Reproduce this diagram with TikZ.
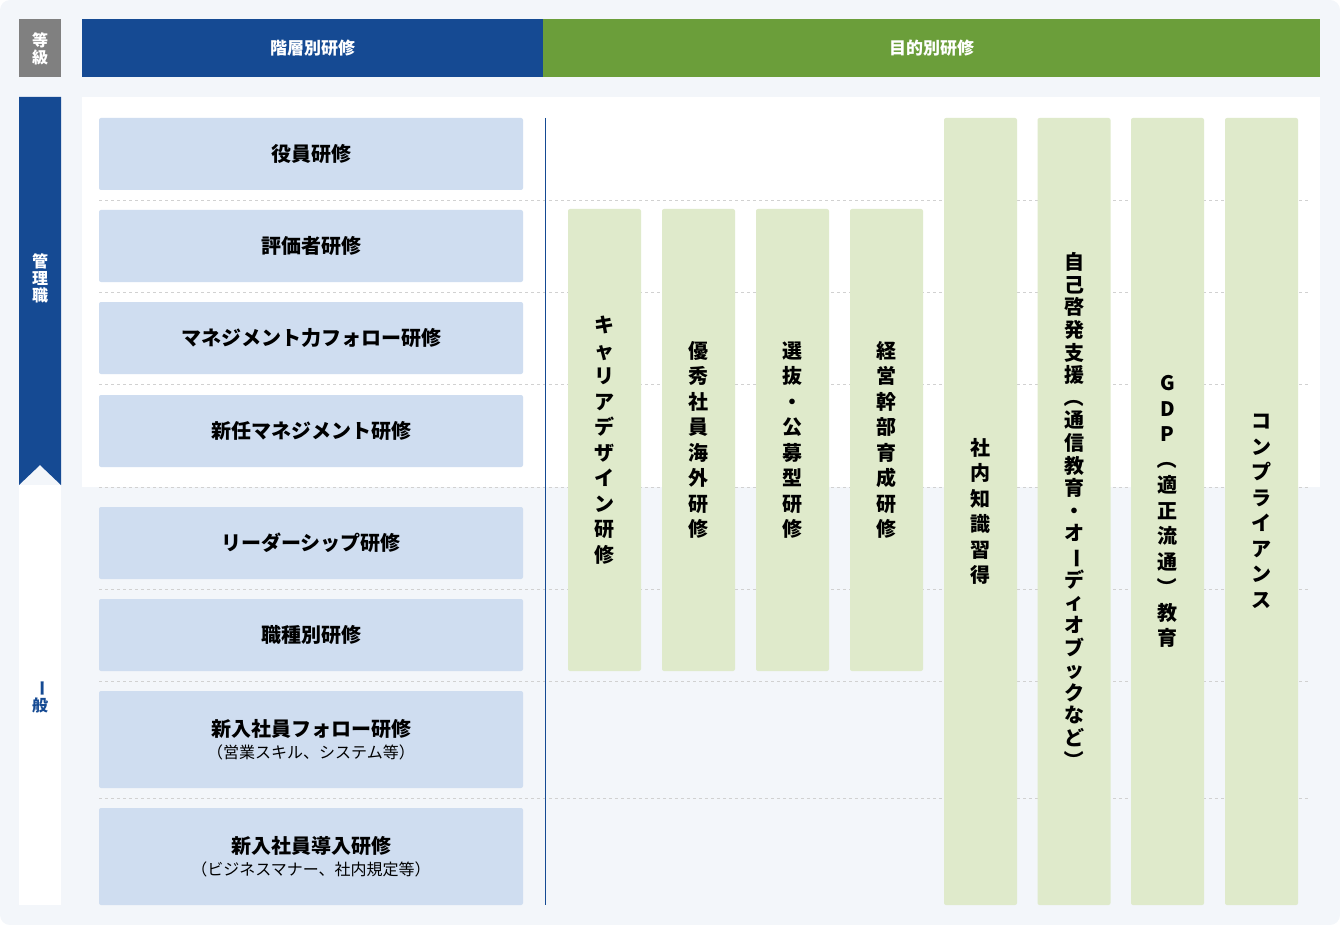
\documentclass[tikz,border=0pt]{standalone}
\usepackage{fontspec}
\usepackage{graphicx}
\setmainfont{Noto Sans CJK JP}
\usetikzlibrary{positioning}
\definecolor{bgpale}{HTML}{F3F6FA}
\definecolor{hdblue}{HTML}{154A93}
\definecolor{hdgreen}{HTML}{6B9E3A}
\definecolor{boxblue}{HTML}{CFDDF0}
\definecolor{barpale}{HTML}{DFEACB}
\definecolor{gradegray}{HTML}{808080}
\newcommand\rot[1]{\rotatebox[origin=c]{-90}{#1}}
\newcommand\subtxt{\mdseries\fontsize{16}{20}\selectfont}
\tikzset{
  header/.style={rectangle, text=white, font=\bfseries\fontsize{17}{20}\selectfont, minimum height=58pt, inner sep=0pt},
  lbox/.style={rectangle, rounded corners=2pt, fill=boxblue, minimum width=424pt, minimum height=72pt, align=center, font=\bfseries\fontsize{20}{24}\selectfont, inner sep=0pt},
  gbar/.style={rectangle, rounded corners=2pt, fill=barpale, minimum width=73pt, align=center, inner sep=0pt, font=\bfseries\fontsize{20}{25.5}\selectfont},
  rowline/.style={draw=black!18, dashed, line width=0.8pt}
}
\begin{document}
\begin{tikzpicture}[x=1pt, y=-1pt]
\useasboundingbox (0,0) rectangle (1340,925);
\fill[bgpale, rounded corners=10pt] (0,0) rectangle (1340,925);

% header row
\node[header, fill=gradegray, minimum width=42pt, align=center, font=\bfseries\fontsize{16}{17}\selectfont] (grade) at (40,48.5) {等\\級};
\node[header, fill=hdblue, minimum width=461pt] (layer) at (312.5,48.5) {階層別研修};
\node[header, fill=hdgreen, minimum width=777pt] (purpose) at (931.5,48.5) {目的別研修};

% grade column
\fill[white] (19,485) rectangle (61,905);
\fill[hdblue] (19,97) -- (61,97) -- (61,485) -- (40,465) -- (19,485) -- cycle;
\node[text=white, align=center, font=\bfseries\fontsize{16}{17}\selectfont] (mgr) at (40,278) {管\\理\\職};
\node[text=hdblue, align=center, font=\bfseries\fontsize{16}{17}\selectfont] (general) at (40,697) {\rot{ー}\\般};

% management panel
\fill[white] (82,97) rectangle (1320,487);

% row separators
\foreach \y in {200,292,384,487,589,681,798}
  \draw[rowline] (99,\y) -- (1310,\y);

% layer trainings
\node[lbox] (yakuin) at (311,154) {役員研修};
\node[lbox] (hyoka) at (311,246) {評価者研修};
\node[lbox] (mgfollow) at (311,338) {マネジメント力フォロー研修};
\node[lbox] (newmg) at (311,431) {新任マネジメント研修};
\node[lbox] (leader) at (311,543) {リーダーシップ研修};
\node[lbox] (shokushu) at (311,635) {職種別研修};
\node[lbox, minimum height=97pt] (newfollow) at (311,739.5) {新入社員フォロー研修\\[-2pt]{\subtxt （営業スキル、システム等）}};
\node[lbox, minimum height=97pt] (newintro) at (311,856.5) {新入社員導入研修\\[-2pt]{\subtxt （ビジネスマナー、社内規定等）}};

% divider
\draw[hdblue, line width=1pt] (545,118) -- (545,905);

% purpose trainings
\node[gbar, minimum height=462pt] (career) at (604.5,440) {キ\\ャ\\リ\\ア\\デ\\ザ\\イ\\ン\\研\\修};
\node[gbar, minimum height=462pt] (overseas) at (698.5,440) {優\\秀\\社\\員\\海\\外\\研\\修};
\node[gbar, minimum height=462pt] (select) at (792.5,440) {選\\抜\\・\\公\\募\\型\\研\\修};
\node[gbar, minimum height=462pt] (exec) at (886.5,440) {経\\営\\幹\\部\\育\\成\\研\\修};
\node[gbar, minimum height=787pt] (knowledge) at (980.5,511.5) {社\\内\\知\\識\\習\\得};
\node[gbar, minimum height=787pt, font=\bfseries\fontsize{20}{22.6}\selectfont] (selfdev) at (1074,511.5) {自\\己\\啓\\発\\支\\援\\\rot{（}\\通\\信\\教\\育\\・\\オ\\\rot{ー}\\デ\\ィ\\オ\\ブ\\ッ\\ク\\な\\ど\\\rot{）}};
\node[gbar, minimum height=787pt] (gdp) at (1167.5,511.5) {G\\D\\P\\\rot{（}\\適\\正\\流\\通\\\rot{）}\\教\\育};
\node[gbar, minimum height=787pt] (comply) at (1261.5,511.5) {コ\\ン\\プ\\ラ\\イ\\ア\\ン\\ス};
\end{tikzpicture}
\end{document}
